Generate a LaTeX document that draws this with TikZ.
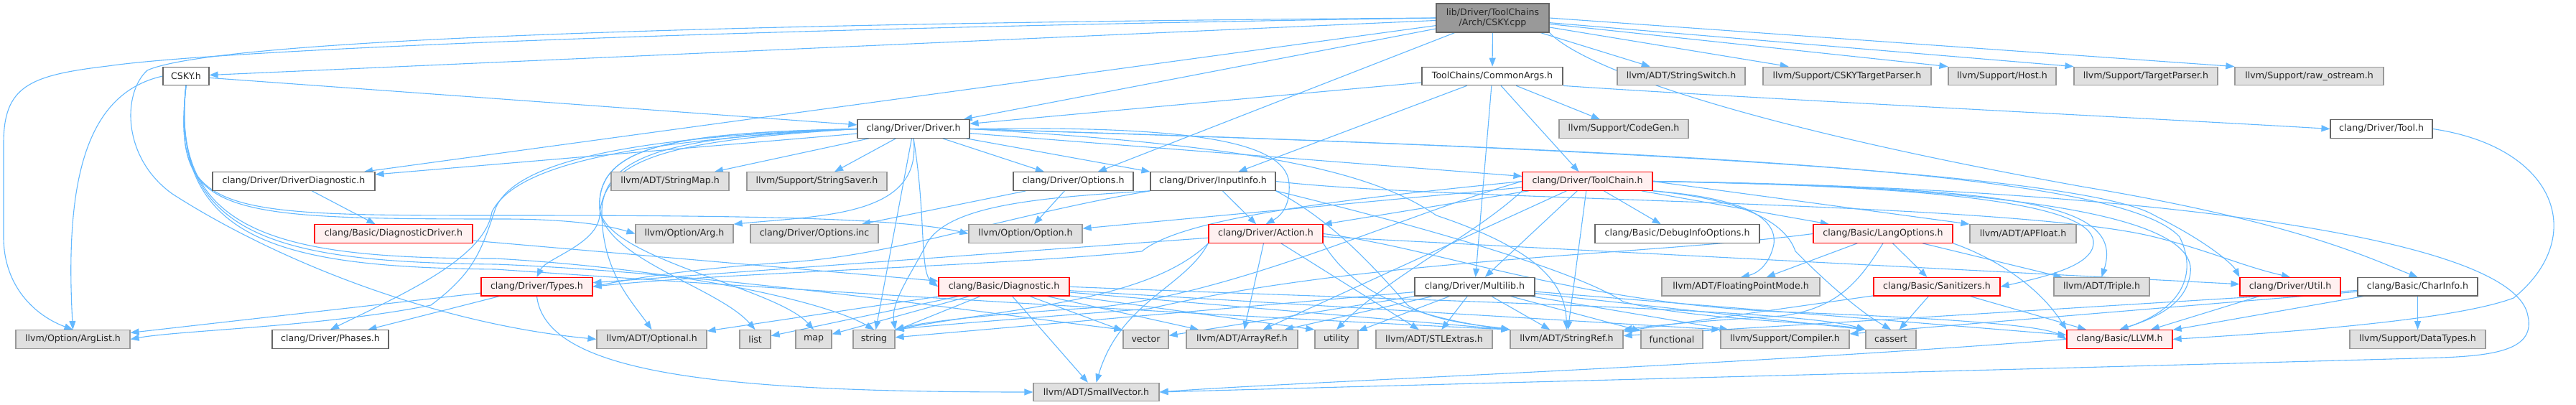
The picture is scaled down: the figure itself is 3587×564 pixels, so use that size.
\documentclass[tikz,border=0pt]{standalone}
\usepackage{fontspec}
\setmainfont{DejaVu Sans}
\usepackage{xcolor}
\usepackage{tikz}
\usetikzlibrary{arrows.meta}
\definecolor{edge}{HTML}{63B8FF}
\definecolor{grayfill}{HTML}{E0E0E0}
\definecolor{grayline}{HTML}{999999}
\definecolor{darkline}{HTML}{666666}
\definecolor{redfill}{HTML}{FFF0F0}
\definecolor{rootfill}{HTML}{999999}
\pgfdeclarelayer{background}
\pgfsetlayers{background,main}
\tikzset{
  base/.style={rectangle,line width=1.2pt,minimum height=25.5pt,inner xsep=2pt,
    font=\fontsize{12.6}{14.6}\selectfont,text=black!85},
  hdr/.style={base,draw=darkline,fill=white},
  sys/.style={base,draw=grayline,fill=grayfill},
  trunc/.style={base,draw=red,fill=redfill},
  root/.style={base,draw=darkline,fill=rootfill,align=center,minimum height=40pt},
  arrow/.style={-{Triangle[length=12pt,width=9pt]},line width=1.1pt,draw=edge}
}
\begin{document}
\begin{tikzpicture}[x=1pt,y=-1pt]
\useasboundingbox (0,0) rectangle (3587,564);
% row 0 and 1
\node[root,minimum width=157pt] (cpp) at (2078.5,25) {lib/Driver/ToolChains\\/Arch/CSKY.cpp};
\node[hdr,minimum width=64pt] (cskyh) at (259,106) {CSKY.h};
\node[hdr,minimum width=196pt] (commonargs) at (2078,106) {ToolChains/CommonArgs.h};
\node[sys,minimum width=178pt] (strswitch) at (2341,106) {llvm/ADT/StringSwitch.h};
\node[sys,minimum width=234pt] (cskytp) at (2572,106) {llvm/Support/CSKYTargetParser.h};
\node[sys,minimum width=150pt] (host) at (2788,106) {llvm/Support/Host.h};
\node[sys,minimum width=200pt] (tparser) at (2988,106) {llvm/Support/TargetParser.h};
\node[sys,minimum width=207pt] (rawos) at (3215.5,106) {llvm/Support/raw\_ostream.h};
% row 2
\node[hdr,minimum width=156pt] (driver) at (1272,179.5) {clang/Driver/Driver.h};
\node[sys,minimum width=180pt] (codegen) at (2261,179.5) {llvm/Support/CodeGen.h};
\node[hdr,minimum width=142pt] (tool) at (3316,179.5) {clang/Driver/Tool.h};
% row 3
\node[hdr,minimum width=226pt] (drvdiag) at (409,252.5) {clang/Driver/DriverDiagnostic.h};
\node[sys,minimum width=164pt] (strmap) at (933,252.5) {llvm/ADT/StringMap.h};
\node[sys,minimum width=195pt] (strsaver) at (1137.5,252.5) {llvm/Support/StringSaver.h};
\node[hdr,minimum width=167pt] (options) at (1494.5,252.5) {clang/Driver/Options.h};
\node[hdr,minimum width=174pt] (inputinfo) at (1689,252.5) {clang/Driver/InputInfo.h};
\node[trunc,minimum width=181pt] (toolchain) at (2210.5,252.5) {clang/Driver/ToolChain.h};
% row 4
\node[trunc,minimum width=220pt] (diagdrv) at (548,325.5) {clang/Basic/DiagnosticDriver.h};
\node[sys,minimum width=136pt] (arg) at (953,325.5) {llvm/Option/Arg.h};
\node[sys,minimum width=178pt] (optinc) at (1134,325.5) {clang/Driver/Options.inc};
\node[sys,minimum width=158pt] (option) at (1428,325.5) {llvm/Option/Option.h};
\node[trunc,minimum width=159pt] (action) at (1762.5,325.5) {clang/Driver/Action.h};
\node[hdr,minimum width=229pt] (debuginfo) at (2335.5,325.5) {clang/Basic/DebugInfoOptions.h};
\node[trunc,minimum width=194pt] (langopts) at (2622,325.5) {clang/Basic/LangOptions.h};
\node[sys,minimum width=148pt] (apfloat) at (2817,325.5) {llvm/ADT/APFloat.h};
% row 5
\node[trunc,minimum width=155pt] (types) at (747.5,399.3) {clang/Driver/Types.h};
\node[trunc,minimum width=182pt] (diag) at (1398,399.3) {clang/Basic/Diagnostic.h};
\node[hdr,minimum width=167pt] (multilib) at (2053.5,399.3) {clang/Driver/Multilib.h};
\node[sys,minimum width=220pt] (fpmode) at (2424,399.3) {llvm/ADT/FloatingPointMode.h};
\node[trunc,minimum width=176pt] (sanit) at (2697,399.3) {clang/Basic/Sanitizers.h};
\node[sys,minimum width=133pt] (triple) at (2926.5,399.3) {llvm/ADT/Triple.h};
\node[trunc,minimum width=140pt] (util) at (3189,399.3) {clang/Driver/Util.h};
\node[hdr,minimum width=167pt] (charinfo) at (3366.5,399.3) {clang/Basic/CharInfo.h};
% row 6 and 7
\node[sys,minimum width=159pt] (arglist) at (101.5,472.4) {llvm/Option/ArgList.h};
\node[hdr,minimum width=162pt] (phases) at (460,472.4) {clang/Driver/Phases.h};
\node[sys,minimum width=153pt] (optional) at (907.5,472.4) {llvm/ADT/Optional.h};
\node[sys,minimum width=43pt] (list) at (1051.5,472.4) {list};
\node[sys,minimum width=50pt] (map) at (1133,472.4) {map};
\node[sys,minimum width=58pt] (string) at (1217,472.4) {string};
\node[sys,minimum width=63pt] (vector) at (1595.5,472.4) {vector};
\node[sys,minimum width=155pt] (arrayref) at (1729.5,472.4) {llvm/ADT/ArrayRef.h};
\node[sys,minimum width=60pt] (utility) at (1861,472.4) {utility};
\node[sys,minimum width=162pt] (stlextras) at (1997,472.4) {llvm/ADT/STLExtras.h};
\node[sys,minimum width=157pt] (strref) at (2181.5,472.4) {llvm/ADT/StringRef.h};
\node[sys,minimum width=86pt] (functional) at (2328,472.4) {functional};
\node[sys,minimum width=179pt] (compiler) at (2485.5,472.4) {llvm/Support/Compiler.h};
\node[sys,minimum width=70pt] (cassert) at (2633,472.4) {cassert};
\node[trunc,minimum width=147pt] (llvmh) at (2951.5,472.4) {clang/Basic/LLVM.h};
\node[sys,minimum width=189pt] (datatypes) at (3366.5,472.4) {llvm/Support/DataTypes.h};
\node[sys,minimum width=175pt] (smallvec) at (1526.5,546) {llvm/ADT/SmallVector.h};
\begin{pgfonlayer}{background}
% CSKY.cpp
\draw[arrow] (cpp) -- (cskyh); \draw[arrow] (cpp) -- (commonargs); \draw[arrow] (cpp) -- (driver);
\draw[arrow] (cpp) -- (drvdiag); \draw[arrow] (cpp) -- (options); \draw[arrow] (cpp) -- (strswitch);
\draw[arrow] (cpp) -- (cskytp); \draw[arrow] (cpp) -- (host.north west);
\draw[arrow] (cpp) -- (tparser.north west); \draw[arrow] (cpp.east) -- (rawos.north west);
\draw[arrow] (cpp.south east) .. controls (2200,90) and (2400,170) .. (2900,260) .. controls (3200,310) and (3300,360) .. (charinfo.north);
\draw[arrow] (cpp.west) .. controls (1000,40) and (300,70) .. (150,92) .. controls (40,105) and (5,120) .. (5,200) -- (5,330) .. controls (5,400) and (50,440) .. (arglist.north);
\draw[arrow] (cpp.west) .. controls (1000,32) and (300,55) .. (205,98) .. controls (170,130) and (170,220) .. (240,270) .. controls (380,360) and (600,450) .. (optional.west);
% CSKY.h
\draw[arrow] (cskyh) -- (driver);
\draw[arrow] (cskyh.west) .. controls (120,130) and (90,250) .. (arglist.north);
\draw[arrow] (cskyh.south) .. controls (240,300) and (300,300) .. (700,300) .. controls (1000,300) and (1250,302) .. (option.west);
\draw[arrow] (cskyh.south) .. controls (240,300) and (300,305) .. (700,305) .. controls (800,305) and (850,315) .. (arg.west);
\draw[arrow] (cskyh.south) .. controls (235,330) and (400,360) .. (690,360) .. controls (950,375) and (1150,420) .. (string.north);
\draw[arrow] (cskyh.south) .. controls (235,335) and (400,365) .. (690,368) .. controls (1000,380) and (1400,440) .. (vector.north west);
\draw[arrow] (cskyh.south) .. controls (235,340) and (400,372) .. (690,375) .. controls (1200,410) and (1700,440) .. (strref.north west);
% CommonArgs.h
\draw[arrow] (commonargs) -- (driver); \draw[arrow] (commonargs) -- (inputinfo); \draw[arrow] (commonargs) -- (multilib);
\draw[arrow] (commonargs) -- (toolchain); \draw[arrow] (commonargs) -- (codegen);
\draw[arrow] (commonargs.south east) .. controls (2400,135) and (3000,165) .. (tool.west);
% Driver.h
\draw[arrow] (driver) -- (drvdiag); \draw[arrow] (driver) -- (strmap); \draw[arrow] (driver) -- (strsaver);
\draw[arrow] (driver) -- (options); \draw[arrow] (driver) -- (inputinfo.north west); \draw[arrow] (driver) -- (toolchain);
\draw[arrow] (driver) -- (string);
\draw[arrow] (driver.west) .. controls (950,185) and (830,200) .. (835,290) .. controls (840,360) and (1000,400) .. (list.north);
\draw[arrow] (driver.west) .. controls (950,185) and (830,200) .. (835,290) .. controls (840,360) and (1080,400) .. (map.north);
\draw[arrow] (driver.west) .. controls (950,190) and (835,210) .. (838,300) .. controls (840,380) and (880,420) .. (optional.north);
\draw[arrow] (driver.west) .. controls (950,195) and (840,215) .. (835,300) .. controls (832,340) and (760,360) .. (types.north);
\draw[arrow] (driver.west) .. controls (900,195) and (720,225) .. (685,295) .. controls (675,360) and (560,410) .. (phases.north);
\draw[arrow] (driver.west) .. controls (900,190) and (720,220) .. (690,290) .. controls (670,350) and (660,380) .. (600,425) .. controls (450,455) and (250,460) .. (arglist.east);
\draw[arrow] (driver.south) .. controls (1290,300) and (1280,380) .. (diag.west);
\draw[arrow] (driver.south) .. controls (1285,300) and (1150,300) .. (arg.north east);
\draw[arrow] (driver.east) .. controls (1650,175) and (1790,195) .. (1795,255) .. controls (1797,285) and (1785,300) .. (action.north);
\draw[arrow] (driver.east) .. controls (1700,200) and (1900,230) .. (2000,300) .. controls (2150,350) and (2180,400) .. (strref.north);
\draw[arrow] (driver.east) .. controls (2200,205) and (2900,240) .. (3000,300) .. controls (3080,340) and (3110,370) .. (util.north west);
\draw[arrow] (driver.east) .. controls (2300,210) and (2950,235) .. (3035,330) .. controls (3060,380) and (3040,430) .. (llvmh.north);
% diagnostics and options
\draw[arrow] (drvdiag) -- (diagdrv); \draw[arrow] (diagdrv) -- (diag);
\draw[arrow] (options) -- (option); \draw[arrow] (options) -- (optinc);
% InputInfo.h
\draw[arrow] (inputinfo) -- (action);
\draw[arrow] (inputinfo.south west) .. controls (1400,300) and (1250,355) .. (1100,365) .. controls (950,375) and (870,390) .. (types.east);
\draw[arrow] (inputinfo.south west) .. controls (1450,275) and (1320,285) .. (1290,340) .. controls (1270,380) and (1240,420) .. (string.north east);
\draw[arrow] (inputinfo.east) .. controls (2000,280) and (2800,280) .. (3000,330) .. controls (3080,350) and (3120,370) .. (util.north);
\draw[arrow] (inputinfo.south east) .. controls (1860,310) and (1920,380) .. (1960,425) .. controls (2000,450) and (2080,455) .. (strref.north west);
\draw[arrow] (inputinfo.south east) .. controls (2000,320) and (2200,380) .. (2260,420) .. controls (2350,445) and (2550,450) .. (cassert.north west);
% Action.h
\draw[arrow] (action) -- (types); \draw[arrow] (action) -- (util); \draw[arrow] (action) -- (arrayref);
\draw[arrow] (action) -- (stlextras);
\draw[arrow] (action.south west) .. controls (1650,400) and (1560,420) .. (smallvec.north);
\draw[arrow] (action.south east) .. controls (1880,400) and (1950,440) .. (strref.north west);
\draw[arrow] (action.south west) .. controls (1600,420) and (1400,430) .. (string.north east);
\draw[arrow] (action.east) .. controls (2000,345) and (2200,425) .. (2500,435) .. controls (2750,445) and (2850,455) .. (llvmh.west);
% Types.h
\draw[arrow] (types) -- (phases); \draw[arrow] (types) -- (arglist);
\draw[arrow] (types.south) .. controls (760,520) and (1000,546) .. (smallvec.west);
% ToolChain.h
\draw[arrow] (toolchain) -- (debuginfo); \draw[arrow] (toolchain) -- (langopts); \draw[arrow] (toolchain) -- (action);
\draw[arrow] (toolchain) -- (multilib); \draw[arrow] (toolchain.east) -- (apfloat.north west); \draw[arrow] (toolchain) -- (arrayref);
\draw[arrow] (toolchain) -- (strref); \draw[arrow] (toolchain) -- (option);
\draw[arrow] (toolchain.east) .. controls (2800,260) and (3060,300) .. (3050,380) .. controls (3045,420) and (3010,440) .. (llvmh.north);
\draw[arrow] (toolchain.east) .. controls (2750,260) and (2920,290) .. (2915,340) .. controls (2912,370) and (2850,385) .. (sanit.east);
\draw[arrow] (toolchain.east) .. controls (2800,262) and (2960,280) .. (triple.north);
\draw[arrow] (toolchain.south east) .. controls (2420,275) and (2475,300) .. (2470,340) .. controls (2465,365) and (2450,380) .. (fpmode.north);
\draw[arrow] (toolchain.south east) .. controls (2450,280) and (2490,320) .. (2500,350) .. controls (2560,410) and (2600,440) .. (cassert.north);
\draw[arrow] (toolchain.west) .. controls (1900,275) and (1650,300) .. (1590,350) .. controls (1400,370) and (1000,380) .. (types.east);
\draw[arrow] (toolchain.west) .. controls (1950,300) and (1700,420) .. (1500,430) .. controls (1350,440) and (1280,450) .. (string.north east);
\draw[arrow] (toolchain.south west) .. controls (2050,330) and (1940,380) .. (utility.north);
\draw[arrow] (toolchain.east) .. controls (2900,260) and (3500,320) .. (3520,440) .. controls (3530,485) and (3480,495) .. (3400,498) .. controls (2800,515) and (2000,535) .. (smallvec.east);
% Multilib.h
\draw[arrow] (multilib) -- (llvmh); \draw[arrow] (multilib) -- (arrayref); \draw[arrow] (multilib) -- (stlextras);
\draw[arrow] (multilib) -- (strref); \draw[arrow] (multilib) -- (compiler); \draw[arrow] (multilib) -- (cassert.north west);
\draw[arrow] (multilib) -- (functional); \draw[arrow] (multilib) -- (string); \draw[arrow] (multilib) -- (utility);
\draw[arrow] (multilib) -- (vector);
% Diagnostic.h
\draw[arrow] (diag) -- (arrayref); \draw[arrow] (diag) -- (optional); \draw[arrow] (diag) -- (smallvec);
\draw[arrow] (diag) -- (strref.north west); \draw[arrow] (diag) -- (compiler.north west); \draw[arrow] (diag) -- (list);
\draw[arrow] (diag) -- (map); \draw[arrow] (diag) -- (string); \draw[arrow] (diag) -- (utility.north west);
\draw[arrow] (diag) -- (vector);
\draw[arrow] (diag.east) .. controls (2000,420) and (2500,430) .. (cassert.north west);
% LangOptions.h, Sanitizers.h
\draw[arrow] (langopts) -- (sanit); \draw[arrow] (langopts) -- (fpmode); \draw[arrow] (langopts) -- (triple);
\draw[arrow] (langopts.south) .. controls (2590,390) and (2560,430) .. (2480,440) .. controls (2350,448) and (2290,455) .. (strref.north east);
\draw[arrow] (langopts.south east) .. controls (2780,360) and (2840,400) .. (llvmh.north west);
\draw[arrow] (langopts.west) .. controls (2300,355) and (1900,360) .. (1600,430) .. controls (1400,445) and (1280,455) .. (string.north east);
\draw[arrow] (sanit) -- (llvmh); \draw[arrow] (sanit) -- (strref); \draw[arrow] (sanit) -- (cassert);
% Util.h, CharInfo.h, Tool.h, LLVM.h
\draw[arrow] (util) -- (llvmh);
\draw[arrow] (charinfo) -- (llvmh); \draw[arrow] (charinfo) -- (strref); \draw[arrow] (charinfo) -- (compiler);
\draw[arrow] (charinfo) -- (datatypes);
\draw[arrow] (tool.east) .. controls (3560,205) and (3605,330) .. (3500,415) .. controls (3420,445) and (3200,462) .. (llvmh.east);
\draw[arrow] (llvmh.west) .. controls (2400,510) and (1800,532) .. (smallvec.east);
\end{pgfonlayer}
\end{tikzpicture}
\end{document}
